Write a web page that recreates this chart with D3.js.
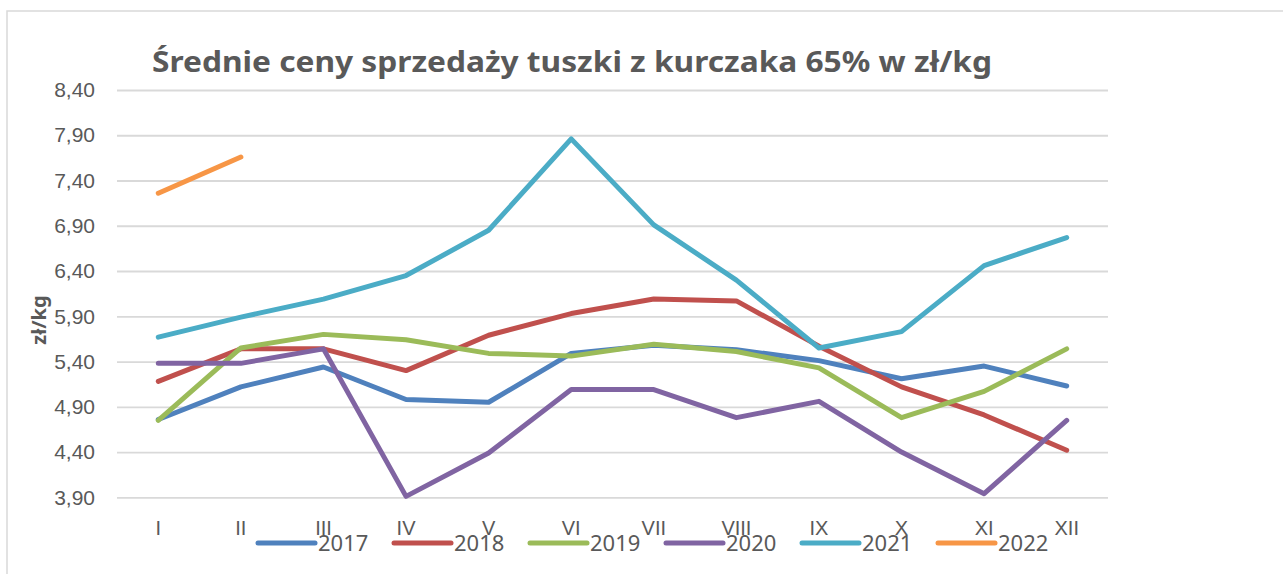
<!DOCTYPE html>
<html>
<head>
<meta charset="utf-8">
<script src="https://cdn.jsdelivr.net/npm/d3@7"></script>
<style>
  body { margin: 0; background: #fff; }
  svg { display: block; font-family: "Noto Sans", "Open Sans", sans-serif; }
</style>
</head>
<body>
<svg></svg>
<script>
// months (roman) and tick values
const months = ['I', 'II', 'III', 'IV', 'V', 'VI', 'VII', 'VIII', 'IX', 'X', 'XI', 'XII'];
const yTicks = [3.9, 4.4, 4.9, 5.4, 5.9, 6.4, 6.9, 7.4, 7.9, 8.4];
const years = ['2017', '2018', '2019', '2020', '2021', '2022'];

// prices per year, zl/kg
const v2017 = [4.76, 5.12, 5.34, 4.98, 4.95, 5.49, 5.58, 5.53, 5.41, 5.21, 5.35, 5.13];
const v2018 = [5.18, 5.54, 5.54, 5.30, 5.69, 5.93, 6.09, 6.07, 5.57, 5.12, 4.81, 4.42];
const v2019 = [4.75, 5.55, 5.70, 5.64, 5.49, 5.46, 5.59, 5.51, 5.33, 4.78, 5.07, 5.54];
const v2020 = [5.38, 5.38, 5.54, 3.91, 4.39, 5.09, 5.09, 4.78, 4.96, 4.40, 3.94, 4.75];
const v2021 = [5.67, 5.89, 6.09, 6.35, 6.85, 7.86, 6.91, 6.30, 5.55, 5.73, 6.46, 6.77];
const v2022 = [7.26, 7.66];

const colors = ['#4f81bd', '#c0504d', '#9bbb59', '#8064a2', '#4bacc6', '#f79646'];

const s = {
  width: 1283,
  height: 574,
  left: 117,
  right: 1108,
  top: 90,
  bottom: 497.3,
};

const series = years.map((yr, i) => ({
  year: yr,
  color: colors[i],
  values: [v2017, v2018, v2019, v2020, v2021, v2022][i],
}));

const svg = d3.select('svg')
    .attr('width', s.width)
    .attr('height', s.height);

// outer chart frame
svg.append('rect')
    .attr('x', 7)
    .attr('y', 11)
    .attr('width', 1400)
    .attr('height', 700)
    .attr('fill', 'none')
    .attr('stroke', '#d9d9d9')
    .attr('stroke-width', 1.5);

const x = d3.scaleBand()
    .domain(months)
    .range([s.left, s.right]);

const y = d3.scaleLinear()
    .domain([3.9, 8.4])
    .range([s.bottom, s.top]);

const fmt = d => d3.format('.2f')(d).replace('.', ',');

// y axis + gridlines
const yAxis = svg.append('g')
    .attr('transform', `translate(${s.left},0)`)
    .call(d3.axisLeft(y)
      .tickValues(yTicks)
      .tickFormat(fmt)
      .tickSizeInner(-(s.right - s.left))
      .tickSizeOuter(0)
      .tickPadding(22));
yAxis.select('.domain').remove();
yAxis.selectAll('line')
    .attr('stroke', '#d9d9d9')
    .attr('stroke-width', 1.8);
yAxis.selectAll('text')
    .attr('fill', '#595959')
    .style('font-size', '21px');

// x axis labels
const xAxis = svg.append('g')
    .attr('transform', `translate(0,${s.bottom})`)
    .call(d3.axisBottom(x).tickSize(0).tickPadding(24));
xAxis.select('.domain').remove();
xAxis.selectAll('text')
    .attr('fill', '#595959')
    .style('font-size', '20px');

// lines
const line = d3.line()
    .x((d, i) => x(months[i]) + x.bandwidth() / 2)
    .y(d => y(d));

svg.append('g')
  .selectAll('path')
  .data(series)
  .join('path')
    .attr('d', d => line(d.values))
    .attr('fill', 'none')
    .attr('stroke', d => d.color)
    .attr('stroke-width', 5)
    .attr('stroke-linecap', 'round')
    .attr('stroke-linejoin', 'round');

// title
svg.append('text')
    .attr('x', 152)
    .attr('y', 72)
    .attr('fill', '#595959')
    .attr('font-weight', 'bold')
    .attr('textLength', 840)
    .attr('lengthAdjust', 'spacingAndGlyphs')
    .style('font-size', '29px')
    .text('Średnie ceny sprzedaży tuszki z kurczaka 65% w zł/kg');

// y axis title
svg.append('text')
    .attr('transform', 'translate(46,320) rotate(-90)')
    .attr('text-anchor', 'middle')
    .attr('fill', '#595959')
    .attr('font-weight', 'bold')
    .style('font-size', '20px')
    .text('zł/kg');

// legend
const legend = svg.append('g')
  .selectAll('g')
  .data(series)
  .join('g')
    .attr('transform', (d, i) => `translate(${258 + i * 136},543)`);

legend.append('line')
    .attr('x1', 0)
    .attr('x2', 57)
    .attr('stroke', d => d.color)
    .attr('stroke-width', 5)
    .attr('stroke-linecap', 'round');

legend.append('text')
    .attr('x', 60)
    .attr('y', 8)
    .attr('fill', '#595959')
    .style('font-size', '22px')
    .text(d => d.year);
</script>
</body>
</html>
